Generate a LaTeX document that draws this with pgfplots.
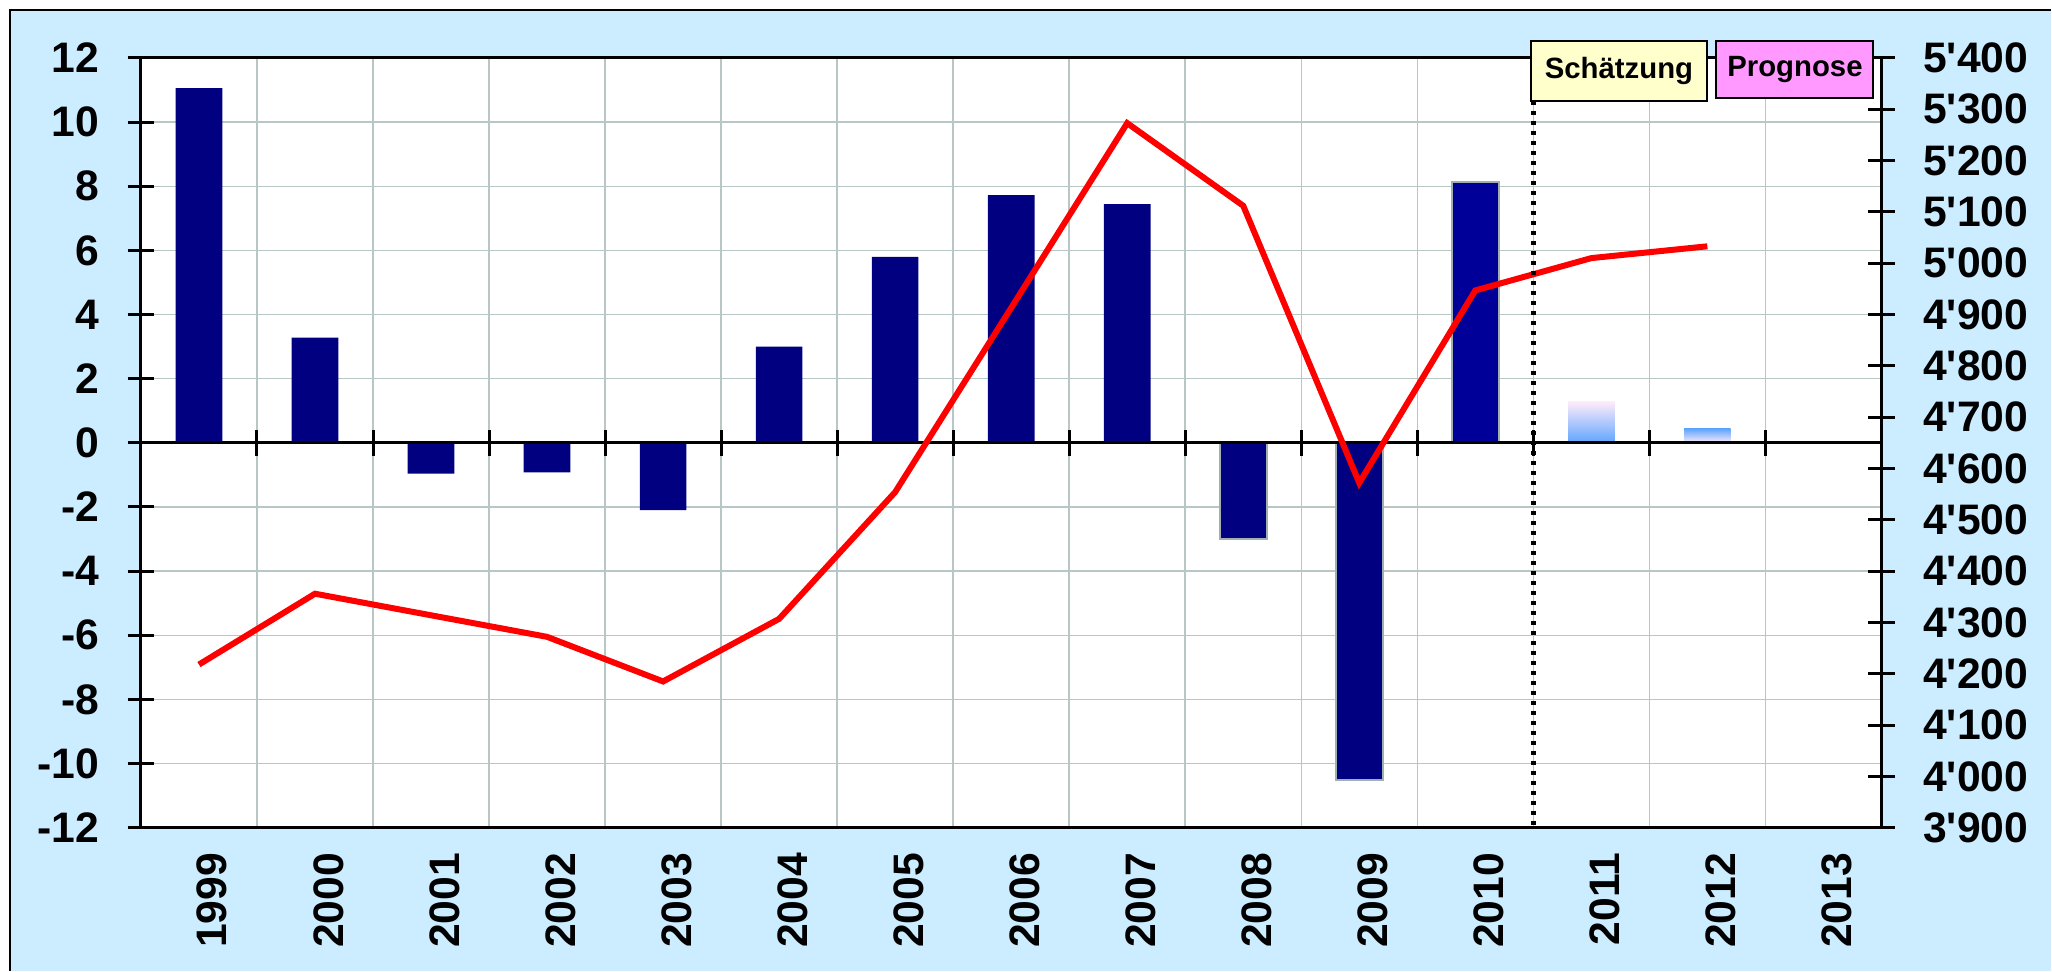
\documentclass[border=0pt]{standalone}
\usepackage{fontspec}
\setmainfont{Liberation Sans}
\usepackage{pgfplots}
\pgfplotsset{compat=1.18}
\definecolor{bgblue}{RGB}{204,236,255}
\definecolor{navy}{RGB}{0,0,128}
\definecolor{navyb}{RGB}{0,0,153}
\definecolor{gridc}{RGB}{185,198,198}
\definecolor{outl}{RGB}{160,176,176}
\definecolor{schy}{RGB}{255,255,204}
\definecolor{progp}{RGB}{255,153,255}
\definecolor{lpink}{RGB}{255,235,250}
\definecolor{lblue}{RGB}{95,165,255}
\begin{document}
\begin{tikzpicture}
\path (0,0) rectangle (615.6pt,291.3pt);
\fill[bgblue] (3pt,0) rectangle (615.6pt,288.3pt);
\draw[line width=0.4pt] (3pt,0) -- (3pt,288.3pt) -- (615.6pt,288.3pt);
\begin{axis}[
  at={(42.3pt,42.9pt)}, anchor=south west,
  width=522.3pt, height=231pt, scale only axis,
  xmin=-0.5, xmax=14.5, ymin=-12, ymax=12,
  axis background/.style={fill=white},
  xtick={0,1,2,3,4,5,6,7,8,9,10,11,12,13,14},
  xticklabels={1999,2000,2001,2002,2003,2004,2005,2006,2007,2008,2009,2010,2011,2012,2013},
  major x tick style={draw=none},
  minor xtick={0.5,1.5,2.5,3.5,4.5,5.5,6.5,7.5,8.5,9.5,10.5,11.5,12.5,13.5},
  minor x tick style={draw=none},
  xminorgrids, ymajorgrids,
  grid style={gridc, line width=0.45pt},
  minor grid style={gridc, line width=0.45pt},
  major grid style={gridc, line width=0.45pt},
  ytick={-12,-10,...,12},
  ytick pos=left,
  tick align=center,
  major tick length=8pt,
  axis line style={line width=0.9pt},
  y tick style={black, line width=0.9pt},
  /pgf/number format/assume math mode=true,
  ticklabel style={font=\fontsize{12.8}{14}\selectfont\bfseries},
  yticklabel style={xshift=-5pt},
  xticklabel style={rotate=90, anchor=east, yshift=-4pt},
  clip=false,
]
\addplot[ybar, bar width=14pt, bar shift=0pt, fill=navy, draw=none] coordinates {
(0,11.06) (1,3.28) (2,-0.96) (3,-0.92) (4,-2.1) (5,3.0) (6,5.8) (7,7.72) (8,7.44)};
\addplot[ybar, bar width=14pt, bar shift=0pt, fill=navy, draw=outl, line width=0.6pt] coordinates {
(9,-3.0) (10,-10.5)};
\addplot[ybar, bar width=14pt, bar shift=0pt, fill=navyb, draw=outl, line width=0.6pt] coordinates {
(11,8.13)};
\addplot[ybar, bar width=14pt, bar shift=0pt, draw=none, top color=lpink, bottom color=lblue] coordinates {
(12,1.28)};
\addplot[ybar, bar width=14pt, bar shift=0pt, draw=none, top color=lblue, bottom color=lpink] coordinates {
(13,0.44)};
\draw[line width=0.9pt] (axis cs:-0.5,0) -- (axis cs:14.5,0);
\pgfplotsinvokeforeach{0.5,1.5,2.5,3.5,4.5,5.5,6.5,7.5,8.5,9.5,10.5,11.5,12.5,13.5}{
  \draw[line width=0.9pt] (axis cs:#1,-0.4) -- (axis cs:#1,0.4);}
\end{axis}
\begin{axis}[
  at={(42.3pt,42.9pt)}, anchor=south west,
  width=522.3pt, height=231pt, scale only axis,
  xmin=-0.5, xmax=14.5, ymin=3900, ymax=5400,
  axis x line=none, axis y line*=right,
  ytick={3900,4000,...,5400},
  scaled y ticks=false,
  tick align=center,
  major tick length=8pt,
  axis line style={line width=0.9pt},
  y tick style={black, line width=0.9pt},
  /pgf/number format/assume math mode=true,
  /pgf/number format/1000 sep={\textquotesingle},
  ticklabel style={font=\fontsize{12.8}{14}\selectfont\bfseries},
  yticklabel style={xshift=5pt},
]
\addplot[red, line width=1.8pt, mark=none] coordinates {
(0,4218) (1,4356) (2,4314) (3,4272) (4,4185) (5,4307) (6,4554) (7,4913) (8,5273) (9,5112) (10,4572) (11,4947) (12,5010) (13,5033)};
\end{axis}
\draw[line width=1.4pt, dash pattern=on 1.3pt off 1.7pt] (460.2pt,279pt) -- (460.2pt,42.9pt);
\draw[line width=0.6pt, fill=schy] (459.3pt,261pt) rectangle (512.4pt,279pt);
\node[font=\fontsize{8.8}{10}\selectfont\bfseries] at (485.85pt,270pt) {Schätzung};
\draw[line width=0.6pt, fill=progp] (515.1pt,261.9pt) rectangle (562.2pt,279pt);
\node[font=\fontsize{8.8}{10}\selectfont\bfseries] at (538.65pt,270.45pt) {Prognose};
\end{tikzpicture}
\end{document}
